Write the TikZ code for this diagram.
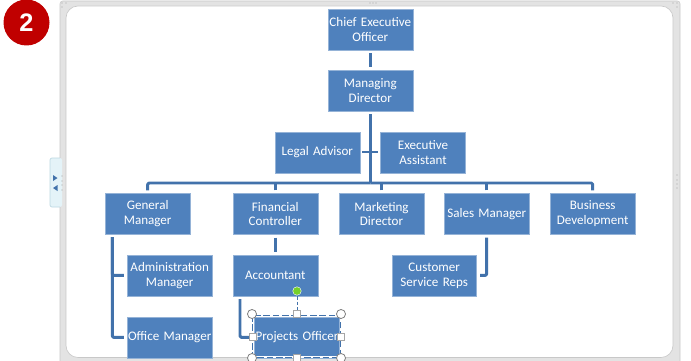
\documentclass[tikz,border=0pt]{standalone}
\usepackage{fontspec}
\setmainfont{Carlito}
\newfontfamily\badgefont{Liberation Sans}
\definecolor{boxblue}{HTML}{4F81BD}
\definecolor{linkblue}{HTML}{4272AB}
\definecolor{framegray}{HTML}{E3E3E3}
\definecolor{frameedge}{HTML}{C8C8C8}
\definecolor{badgered}{HTML}{C00000}
\definecolor{tabblue}{HTML}{E4F3F8}
\definecolor{tabedge}{HTML}{BCD8E2}
\definecolor{handlegreen}{HTML}{76D02A}
\tikzset{
  x=0.75pt,y=-0.75pt,
  orgbox/.style={rectangle,draw=boxblue!60!white,line width=0.3pt,fill=boxblue,text=white,minimum width=63.6pt,minimum height=30.6pt,inner sep=0pt,align=center,font=\fontsize{9.8}{11.2}\selectfont,text width=63pt},
  link/.style={draw=linkblue,line width=2.2pt,line join=round,rounded corners=1pt},
  sqhandle/.style={rectangle,draw=gray!70!white,fill=white,line width=0.5pt,minimum size=5.2pt,inner sep=0pt},
  rdhandle/.style={circle,draw=gray,fill=white,line width=0.6pt,minimum size=6.8pt,inner sep=0pt},
  griphole/.style={circle,fill=gray!70,minimum size=1.1pt,inner sep=0pt},
  tri/.style={fill=linkblue}
}
\begin{document}
\begin{tikzpicture}
\path[use as bounding box] (0,0) rectangle (691,360);
\fill[white] (0,0) rectangle (691,360);
% frame
\fill[framegray,rounded corners=2pt] (60,1) rectangle (680,364);
\draw[frameedge,line width=0.4pt,rounded corners=2pt] (60,1) rectangle (680,364);
\fill[tabblue,rounded corners=1.5pt] (50,158) rectangle (62,207);
\draw[tabedge,line width=0.5pt,rounded corners=1.5pt] (60,158) -- (50,158) -- (50,207) -- (60,207);
\fill[tri] (53,175) -- (57.5,178) -- (53,181) -- cycle;
\fill[tri] (57.5,185) -- (53,188) -- (57.5,191) -- cycle;
\fill[white,rounded corners=9pt,draw=frameedge,line width=0.5pt] (66,6) rectangle (673,357.5);
\foreach \px/\py in {62/3,66/3,62/7,62/176,62/181,62/185,62/190,677/3,677/7,673/3,677/175,677/180,677/184,677/188,370/3,373/3,376/3} \node[griphole] at (\px,\py) {};
% badge
\node[circle,fill=badgered,text=white,minimum size=34.5pt,inner sep=0pt,font=\badgefont\bfseries\fontsize{19}{21}\selectfont] (badge) at (26.5,22.5) {2};
% boxes
\node[orgbox] (ceo) at (370.3,29.5) {Chief Executive\\Officer};
\node[orgbox] (md) at (370.3,90.6) {Managing\\Director};
\node[orgbox] (legal) at (317.3,152.4) {Legal Advisor};
\node[orgbox] (ea) at (423,152.4) {Executive\\Assistant};
\node[orgbox] (gm) at (147.7,214) {General\\Manager};
\node[orgbox] (fc) at (275.3,214) {Financial\\Controller};
\node[orgbox] (mkt) at (381.5,214) {Marketing\\Director};
\node[orgbox] (sales) at (486.7,214) {Sales Manager};
\node[orgbox] (bd) at (592.7,214) {Business\\Development};
\node[orgbox] (admin) at (169.7,275.4) {Administration\\Manager};
\node[orgbox] (office) at (169.7,337.4) {Office Manager};
\node[orgbox] (acc) at (275.3,275.4) {Accountant};
\node[orgbox] (proj) at (297,337.4) {Projects Officer};
\node[orgbox] (cust) at (434.2,275.4) {Customer\\Service Reps};
% connectors
\coordinate (bus) at (370.3,183);
\coordinate (stubl) at (362,152);
\coordinate (stubr) at (378,152);
\coordinate (gmfoot) at (112.3,237);
\coordinate (accfoot) at (240,299);
\draw[link] ([yshift=-2.2pt]ceo.south) -- ([yshift=2.4pt]md.north);
\draw[link] ([yshift=-2.4pt]md.south) -- (bus);
\draw[link] ([yshift=2.2pt]gm.north) |- (bus);
\draw[link] ([yshift=2.2pt]bd.north) |- (bus);
\draw[link] ([yshift=2.2pt]fc.north) -- (fc.north |- bus);
\draw[link] ([yshift=2.2pt]mkt.north) -- (mkt.north |- bus);
\draw[link] ([yshift=2.2pt]sales.north) -- (sales.north |- bus);
\draw[link] (stubl) -- (stubr);
\draw[link] (gmfoot) |- ([xshift=-2.4pt]office.west);
\draw[link] (gmfoot) |- ([xshift=-2.4pt]admin.west);
\draw[link] ([yshift=-2.2pt]fc.south) -- ([yshift=2.4pt]acc.north);
\draw[link] (accfoot) |- (proj.west);
\draw[link] ([yshift=-2.2pt]sales.south) |- ([xshift=2.4pt]cust.east);
% selection
\draw[white,line width=0.8pt] (252.5,315) rectangle (340.5,357);
\draw[linkblue,line width=0.6pt,dash pattern=on 5pt off 2pt] (252.5,315) rectangle (340.5,357);
\draw[linkblue,line width=0.5pt,dash pattern=on 2.5pt off 1.5pt] (297,291) -- (297,314);
\node[sqhandle] (h1) at (297,314) {};
\node[sqhandle] (h2) at (252.5,337) {};
\node[sqhandle] (h3) at (341,337) {};
\node[sqhandle] (h4) at (297,358) {};
\node[rdhandle] (r1) at (252,314) {};
\node[rdhandle] (r2) at (341,314) {};
\node[rdhandle] (r3) at (252,358) {};
\node[rdhandle] (r4) at (341,358) {};
\node[circle,fill=handlegreen,draw=white,line width=0.3pt,minimum size=6.4pt,inner sep=0pt] (rot) at (297,291) {};
\end{tikzpicture}
\end{document}
